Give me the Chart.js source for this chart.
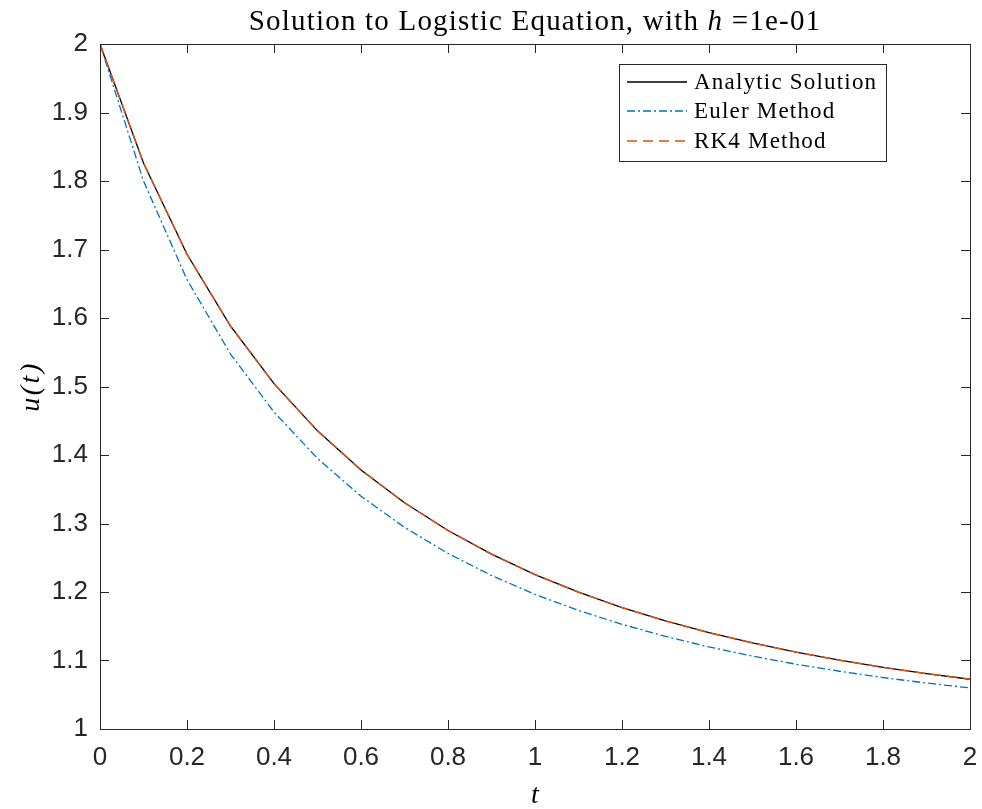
<!DOCTYPE html>
<html>
<head>
<meta charset="utf-8">
<script src="https://cdn.jsdelivr.net/npm/chart.js@4.4.0/dist/chart.umd.min.js"></script>
<style>
  html, body { margin: 0; padding: 0; background: #fff; overflow: hidden; }
  #wrap { width: 982px; height: 809px; position: relative; }
  canvas { display: block; }
</style>
</head>
<body>
<div id="wrap"><canvas id="logChart"></canvas></div>
<script>
// t values (step h = 0.1)
const tValues = [0, 0.1, 0.2, 0.3, 0.4, 0.5, 0.6, 0.7, 0.8, 0.9, 1.0,
  1.1, 1.2, 1.3, 1.4, 1.5, 1.6, 1.7, 1.8, 1.9, 2.0];

const analytic = [2.0000, 1.8262, 1.6931, 1.5883, 1.5041, 1.4353, 1.3782, 1.3303, 1.2898, 1.2552, 1.2254,
  1.1997, 1.1773, 1.1578, 1.1406, 1.1256, 1.1123, 1.1005, 1.0901, 1.0808, 1.0726];

const euler = [2.0000, 1.8000, 1.6560, 1.5474, 1.4627, 1.3950, 1.3399, 1.2944, 1.2563, 1.2241, 1.1966,
  1.1731, 1.1528, 1.1352, 1.1198, 1.1064, 1.0946, 1.0843, 1.0751, 1.0671, 1.0599];

const rk4 = [2.0000, 1.8262, 1.6931, 1.5883, 1.5041, 1.4353, 1.3782, 1.3303, 1.2898, 1.2552, 1.2254,
  1.1997, 1.1773, 1.1578, 1.1406, 1.1256, 1.1123, 1.1005, 1.0901, 1.0808, 1.0726];

const xTicks = [0, 0.2, 0.4, 0.6, 0.8, 1, 1.2, 1.4, 1.6, 1.8, 2];
const yTicks = [1, 1.1, 1.2, 1.3, 1.4, 1.5, 1.6, 1.7, 1.8, 1.9, 2];

const axisColor = '#262626';
const serif = '"Liberation Serif", "DejaVu Serif", serif';
const sans = '"Liberation Sans", Arial, sans-serif';

function toPoints(ys) {
  return tValues.map((t, i) => ({ x: t, y: ys[i] }));
}

function fmt(v) {
  return String(Math.round(v * 10) / 10);
}

// box, inward ticks, title, axis labels and legend
const matlabAxes = {
  id: 'matlabAxes',
  afterDatasetsDraw(chart) {
    const ctx = chart.ctx;
    const a = chart.chartArea;
    const xs = chart.scales.x, ys = chart.scales.y;
    const tl = 9;
    ctx.save();
    ctx.strokeStyle = axisColor;
    ctx.lineWidth = 1;
    ctx.beginPath();
    xTicks.forEach(v => {
      const px = Math.round(xs.getPixelForValue(v)) + 0.5;
      ctx.moveTo(px, a.bottom); ctx.lineTo(px, a.bottom - tl);
      ctx.moveTo(px, a.top); ctx.lineTo(px, a.top + tl);
    });
    yTicks.forEach(v => {
      const py = Math.round(ys.getPixelForValue(v)) + 0.5;
      ctx.moveTo(a.left, py); ctx.lineTo(a.left + tl, py);
      ctx.moveTo(a.right, py); ctx.lineTo(a.right - tl, py);
    });
    ctx.stroke();
    ctx.strokeRect(Math.round(a.left) + 0.5, Math.round(a.top) + 0.5,
      Math.round(a.right - a.left), Math.round(a.bottom - a.top));

    // title
    ctx.fillStyle = '#000';
    ctx.textBaseline = 'alphabetic';
    ctx.letterSpacing = '1.2px';
    const parts = [
      { s: 'Solution to Logistic Equation, with ', f: '29px ' + serif },
      { s: 'h', f: 'italic 29px ' + serif },
      { s: ' =1e-01', f: '29px ' + serif }
    ];
    let total = 0;
    parts.forEach(p => { ctx.font = p.f; p.w = ctx.measureText(p.s).width; total += p.w; });
    let x0 = (a.left + a.right) / 2 - total / 2;
    ctx.textAlign = 'left';
    parts.forEach(p => { ctx.font = p.f; ctx.fillText(p.s, x0, 30); x0 += p.w; });

    // axis labels
    ctx.font = 'italic 28px ' + serif;
    ctx.textAlign = 'center';
    ctx.letterSpacing = '0px';
    ctx.fillText('t', (a.left + a.right) / 2, 803);
    ctx.save();
    ctx.translate(39, (a.top + a.bottom) / 2);
    ctx.rotate(-Math.PI / 2);
    ctx.letterSpacing = '2.5px';
    ctx.fillText('u(t)', 0, 0);
    ctx.restore();

    // legend
    const lx = 619.5, ly = 64.5, lw = 267, lh = 97;
    ctx.fillStyle = '#fff';
    ctx.fillRect(lx, ly, lw, lh);
    ctx.strokeStyle = axisColor;
    ctx.lineWidth = 1;
    ctx.strokeRect(lx, ly, lw, lh);
    const rows = [82, 111, 141];
    chart.data.datasets.forEach((ds, i) => {
      ctx.beginPath();
      ctx.strokeStyle = ds.borderColor;
      ctx.lineWidth = ds.borderWidth;
      ctx.setLineDash(ds.borderDash || []);
      ctx.moveTo(627, rows[i]); ctx.lineTo(687, rows[i]);
      ctx.stroke();
      ctx.setLineDash([]);
      ctx.fillStyle = '#000';
      ctx.font = '23px ' + serif;
      ctx.letterSpacing = '1.2px';
      ctx.textAlign = 'left';
      ctx.textBaseline = 'middle';
      ctx.fillText(ds.label, 694, rows[i] + 1);
    });
    ctx.restore();
  }
};

new Chart(document.getElementById('logChart'), {
  type: 'line',
  data: {
    datasets: [
      { label: 'Analytic Solution', data: toPoints(analytic), borderColor: '#000000', borderWidth: 1.3, order: 3 },
      { label: 'Euler Method', data: toPoints(euler), borderColor: '#0072BD', borderWidth: 1.3, borderDash: [8, 3, 2, 3], order: 2 },
      { label: 'RK4 Method', data: toPoints(rk4), borderColor: '#D95319', borderWidth: 1.5, borderDash: [10, 6], order: 1 }
    ]
  },
  options: {
    responsive: true,
    maintainAspectRatio: false,
    animation: false,
    elements: { point: { radius: 0 }, line: { tension: 0, fill: false } },
    layout: { padding: { left: 0, right: 12, top: 44, bottom: 0 } },
    plugins: { legend: { display: false }, tooltip: { enabled: false } },
    scales: {
      x: {
        type: 'linear', min: 0, max: 2,
        afterBuildTicks: s => { s.ticks = xTicks.map(v => ({ value: v })); },
        afterFit: s => { s.height = 80; s.paddingLeft = 0; s.paddingRight = 0; },
        grid: { display: false, drawTicks: false },
        border: { display: false },
        ticks: { color: axisColor, font: { family: sans, size: 26 }, padding: 13, maxRotation: 0, autoSkip: false, callback: fmt }
      },
      y: {
        type: 'linear', min: 1, max: 2,
        afterBuildTicks: s => { s.ticks = yTicks.map(v => ({ value: v })); },
        afterFit: s => { s.width = 100; s.paddingTop = 0; s.paddingBottom = 0; },
        grid: { display: false, drawTicks: false },
        border: { display: false },
        ticks: { color: axisColor, font: { family: sans, size: 26 }, padding: 12, autoSkip: false, callback: fmt }
      }
    }
  },
  plugins: [matlabAxes]
});
</script>
</body>
</html>
